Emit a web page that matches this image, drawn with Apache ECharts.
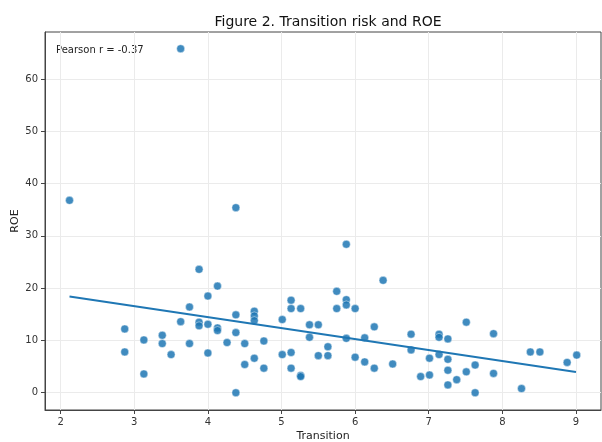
<!DOCTYPE html>
<html>
<head>
<meta charset="utf-8">
<script src="https://cdn.jsdelivr.net/npm/echarts@6/dist/echarts.min.js"></script>
<style>
  html, body { margin: 0; padding: 0; background: #fff; }
  #main { width: 602px; height: 442px; }
</style>
</head>
<body>
<div id="main"></div>
<script>
// transition score / ROE pairs
const transition = [
  3.63, 2.12, 4.38, 3.88, 4.13, 4.00, 3.75, 4.38, 4.63, 4.63, 4.63,
  5.01, 5.13, 5.13, 5.26, 5.38, 5.50, 5.38, 5.50, 3.63, 3.88, 3.88,
  4.00, 4.13, 4.13, 4.38, 2.87, 2.87, 3.13, 3.13, 3.38, 3.38, 3.50,
  3.75, 4.00, 4.26, 4.50, 4.76, 4.50, 4.63, 4.76, 5.01, 5.13, 5.13,
  5.26, 5.26, 4.38, 5.63, 5.63, 5.88, 6.38, 5.75, 5.88, 5.88, 5.75,
  6.00, 5.88, 6.26, 6.13, 6.00, 6.13, 6.26, 6.51, 6.76, 6.76, 6.89,
  7.01, 7.01, 7.14, 7.14, 7.14, 7.26, 7.26, 7.26, 7.26, 7.38, 7.51,
  7.51, 7.63, 7.63, 7.88, 7.88, 8.26, 8.38, 8.51, 8.88, 9.01
]
const roe = [
  65.8, 36.8, 35.4, 23.6, 20.4, 18.5, 16.4, 14.9, 15.6, 14.7, 13.8,
  14.0, 17.7, 16.1, 16.1, 13.0, 13.0, 10.6, 7.1, 13.6, 13.5, 12.8,
  13.1, 12.4, 11.9, 11.5, 12.2, 7.8, 10.1, 3.6, 11.0, 9.4, 7.3,
  9.4, 7.6, 9.6, 9.4, 9.9, 5.4, 6.6, 4.7, 7.3, 7.7, 4.7,
  3.3, 3.1, 0.0, 7.1, 8.8, 28.4, 21.5, 19.4, 17.8, 16.8, 16.1,
  16.1, 10.4, 12.6, 10.5, 6.8, 5.9, 4.7, 5.5, 11.2, 8.2, 3.1,
  6.6, 3.4, 11.2, 10.6, 7.3, 10.3, 6.4, 4.3, 1.5, 2.5, 13.5,
  4.0, 5.3, 0.0, 11.3, 3.7, 0.8, 7.8, 7.8, 5.8, 7.2
]
// fitted line end points
const fitX = [2.12, 9.0]
const fitY = [18.4, 3.95]

const xTicks = [2, 3, 4, 5, 6, 7, 8, 9]
const yTicks = [0, 10, 20, 30, 40, 50, 60]

const points = transition.map((x, i) => [x, roe[i]])
const fitLine = fitX.map((x, i) => [x, fitY[i]])

const font = 'DejaVu Sans'
const chart = echarts.init(document.getElementById('main'))
chart.setOption({
  animation: false,
  title: {
    text: 'Figure 2. Transition risk and ROE',
    left: 323, top: 10, textAlign: 'center',
    textStyle: { fontFamily: font, fontSize: 14, fontWeight: 'normal', color: '#111' }
  },
  grid: {
    left: 45, right: 1, top: 32, bottom: 32,
    containLabel: false, outerBoundsMode: 'none',
    show: true, borderColor: '#444', borderWidth: 1
  },
  graphic: [{
    type: 'text', left: 56, top: 45,
    style: { text: 'Pearson r = -0.37', fontFamily: font, fontSize: 10, fill: '#222' }
  }],
  xAxis: {
    type: 'value', min: 1.787, max: 9.34,
    name: 'Transition', nameLocation: 'middle', nameGap: 21, nameMoveOverlap: false,
    nameTextStyle: { fontFamily: font, fontSize: 11, color: '#222' },
    axisLine: { show: true, onZero: false, lineStyle: { color: '#444' } },
    axisTick: { show: true, customValues: xTicks, length: 4, inside: false, lineStyle: { color: '#444' } },
    axisLabel: { customValues: xTicks, fontFamily: font, fontSize: 10, color: '#333', margin: 7 },
    splitLine: { show: true, lineStyle: { color: '#ebebeb', width: 1 } }
  },
  yAxis: {
    type: 'value', min: -3.3, max: 69,
    name: 'ROE', nameLocation: 'middle', nameGap: 24, nameRotate: 90, nameMoveOverlap: false,
    nameTextStyle: { fontFamily: font, fontSize: 11, color: '#222' },
    axisLine: { show: true, onZero: false, lineStyle: { color: '#444' } },
    axisTick: { show: true, customValues: yTicks, length: 4, inside: false, lineStyle: { color: '#444' } },
    axisLabel: { customValues: yTicks, fontFamily: font, fontSize: 10, color: '#333', margin: 7 },
    splitLine: { show: true, lineStyle: { color: '#ebebeb', width: 1 } }
  },
  series: [
    {
      type: 'scatter',
      data: points,
      symbolSize: 8,
      itemStyle: { color: '#1f77b4', opacity: 0.85, borderColor: '#fff', borderWidth: 0.5 }
    },
    {
      type: 'line',
      data: fitLine,
      showSymbol: false,
      lineStyle: { color: '#1f77b4', width: 2 },
      z: 3
    }
  ]
})
</script>
</body>
</html>
